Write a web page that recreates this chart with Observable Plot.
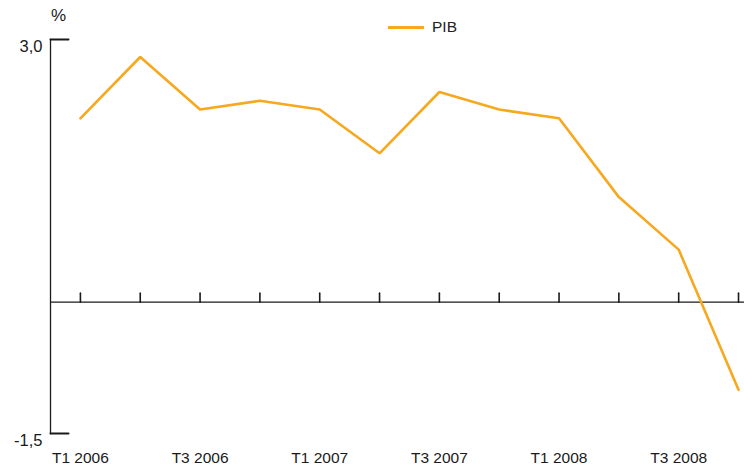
<!DOCTYPE html>
<html><head><meta charset="utf-8">
<script src="https://cdn.jsdelivr.net/npm/d3@7"></script>
<script src="https://cdn.jsdelivr.net/npm/@observablehq/plot@0.6"></script>
<style>
body{margin:0;background:#fff;}
#wrap{position:relative;width:744px;height:471px;font-family:"Liberation Sans",Arial,sans-serif;color:#222;}
#legend{position:absolute;left:388px;top:18px;display:flex;align-items:center;font-size:15.5px;}
#legend .sw{width:36px;height:3px;background:#F6A81E;margin-right:8px;}
</style></head><body>
<div id="wrap"><div id="legend"><span class="sw"></span><span>PIB</span></div></div>
<script>
const quarters = ["T1 2006","T2 2006","T3 2006","T4 2006","T1 2007","T2 2007","T3 2007","T4 2007","T1 2008","T2 2008","T3 2008","T4 2008"];
const pib = [2.1, 2.8, 2.2, 2.3, 2.2, 1.7, 2.4, 2.2, 2.1, 1.2, 0.6, -1.0];
const yTicks = [-1.5, 3.0];
const xLabels = ["T1 2006","T3 2006","T1 2007","T3 2007","T1 2008","T3 2008"];
const unitLabel = "%";

const data = quarters.map((q, i) => ({i, q, v: pib[i]}));
const labelData = xLabels.map(q => ({q, i: quarters.indexOf(q)}));
const stub = {draw(ctx, l) { ctx.moveTo(0, 0); ctx.lineTo(0, -l); }};
const fmt = d => d.toFixed(1).replace(".", ",");
const ink = "#1a1a1a";

const chart = Plot.plot({
  width: 744, height: 471,
  marginTop: 39, marginBottom: 38, marginLeft: 50, marginRight: 0,
  style: {fontFamily: '"Liberation Sans", Arial, sans-serif', background: "transparent"},
  x: {type: "linear", domain: [-0.5, 11.1], axis: null},
  y: {domain: [-1.5, 3.0], axis: null},
  marks: [
    Plot.frame({anchor: "left", stroke: ink, strokeWidth: 1.3}),
    Plot.vector(yTicks, {y: d => d, frameAnchor: "left", length: 18, rotate: 90, anchor: "start", shape: stub, stroke: ink, strokeWidth: 2}),
    Plot.text(yTicks, {y: d => d, text: fmt, frameAnchor: "left", textAnchor: "end", lineAnchor: "middle", dx: -8, dy: 7, fontSize: 16.5, fill: ink}),
    Plot.ruleY([0], {stroke: ink, strokeWidth: 1.3}),
    Plot.vector(data, {x: "i", y: () => 0, length: 9, rotate: 0, anchor: "start", shape: stub, stroke: ink, strokeWidth: 1.6}),
    Plot.text(labelData, {x: "i", text: "q", frameAnchor: "bottom", lineAnchor: "middle", textAnchor: "middle", dy: 25, fontSize: 15.5, fill: ink}),
    Plot.text([unitLabel], {frameAnchor: "top-left", textAnchor: "middle", lineAnchor: "middle", dx: 8, dy: -24, fontSize: 17, fill: ink}),
    Plot.line(data, {x: "i", y: "v", stroke: "#F6A81E", strokeWidth: 2.6, strokeLinejoin: "miter"})
  ]
});
document.getElementById("wrap").appendChild(chart);
</script>
</body></html>
